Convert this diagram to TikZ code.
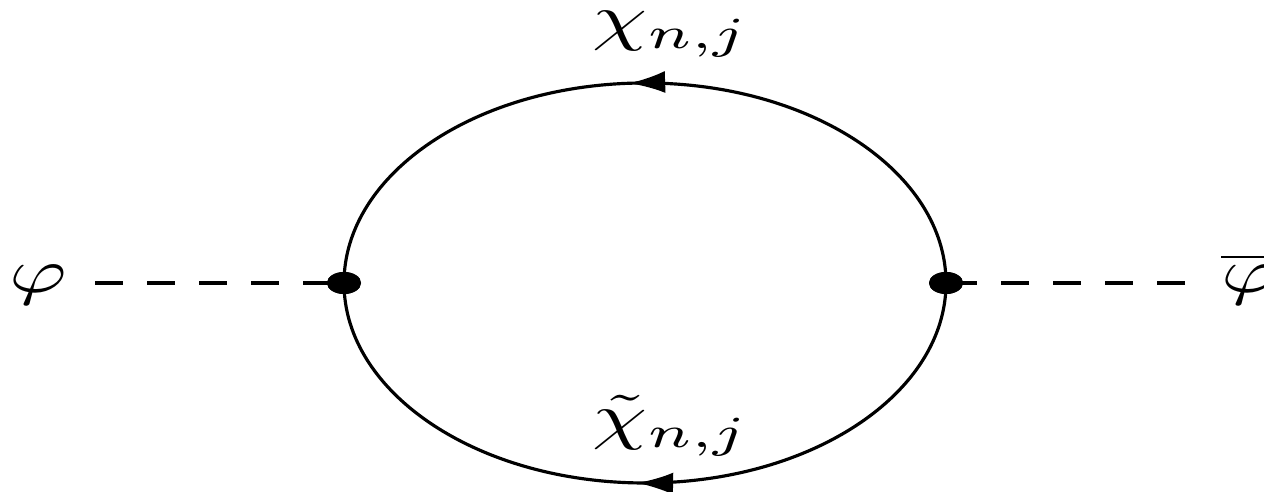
\documentclass[tikz,border=0pt]{standalone}
\usetikzlibrary{arrows.meta,decorations.markings,shapes.geometric}
\begin{document}
\begin{tikzpicture}[x=0.01cm,y=0.01cm,
  fermion/.style={line width=0.9pt},
  scalarline/.style={line width=0.9pt, dash pattern=on 0.28cm off 0.24cm},
  vtx/.style={ellipse, fill=black, draw=none, minimum width=0.34cm, minimum height=0.22cm, inner sep=0pt},
  lbl/.style={inner sep=0pt, anchor=base, yscale=1.8, xscale=2.5},
  midarrow/.style={postaction={decorate}, decoration={markings, mark=at position #1 with {\arrow{Latex[length=3.6mm,width=2.2mm]}}}}
]
\useasboundingbox (0,0) rectangle (1264,492);
% vertices
\node[vtx] (L) at (344,209) {};
\node[vtx] (R) at (946,209) {};
% end coordinates of scalar lines
\coordinate (a) at (95,209);
\coordinate (b) at (1185,209);
% fermion loop
\draw[fermion, midarrow=0.52] (R.center) arc[start angle=0, end angle=180, x radius=301, y radius=200];
\draw[fermion, midarrow=0.51] (R.center) arc[start angle=0, end angle=-180, x radius=301, y radius=200];
\node[vtx] at (L) {};
\node[vtx] at (R) {};
% scalar lines
\draw[scalarline] (a) -- (L.center);
\draw[scalarline] (b) -- (R.center);
% labels
\node[lbl] (phiL) at (38,199) {$\varphi$};
\node[lbl] (phiR) at (1250,199) {$\overline{\varphi}$};
\node[lbl] (chi) at (671,453) {$\chi_{n,j}$};
\node[lbl] (chit) at (671,54) {$\tilde{\chi}_{n,j}$};
\end{tikzpicture}
\end{document}
